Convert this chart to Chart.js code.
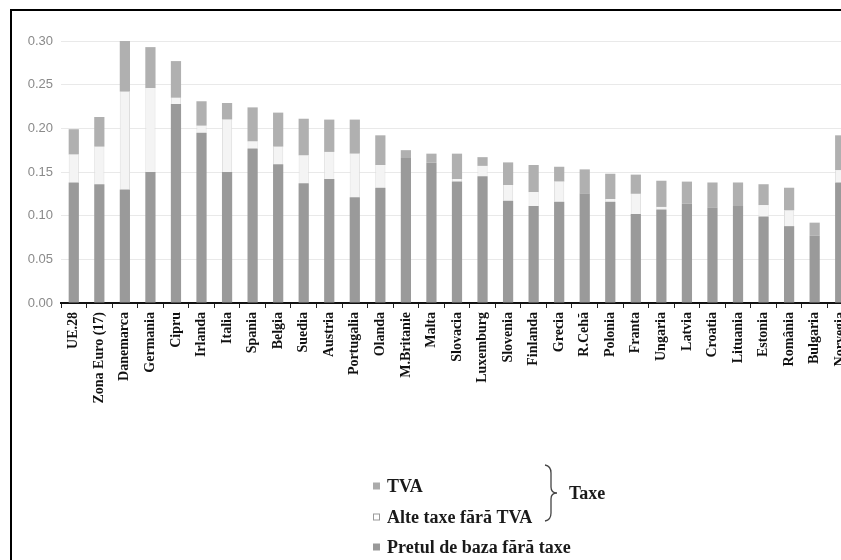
<!DOCTYPE html>
<html>
<head>
<meta charset="utf-8">
<script src="https://cdn.jsdelivr.net/npm/chart.js@4/dist/chart.umd.min.js"></script>
<style>
  html, body { margin: 0; padding: 0; background: #fff; overflow: hidden; }
  #wrap { position: relative; width: 841px; height: 560px; overflow: hidden; }
  canvas { display: block; }
</style>
</head>
<body>
<div id="wrap"><canvas id="c" width="861" height="560"></canvas></div>
<script>
// Countries / groupings, in plotted order
const categories = [
  "UE.28", "Zona Euro (17)", "Danemarca", "Germania", "Cipru", "Irlanda", "Italia",
  "Spania", "Belgia", "Suedia", "Austria", "Portugalia", "Olanda", "M.Britanie",
  "Malta", "Slovacia", "Luxemburg", "Slovenia", "Finlanda", "Grecia", "R.Cehă",
  "Polonia", "Franta", "Ungaria", "Latvia", "Croatia", "Lituania", "Estonia",
  "România", "Bulgaria", "Norvegia"
];

// Base price without taxes
const pretBaza = [
  0.138, 0.136, 0.130, 0.150, 0.228, 0.195, 0.150, 0.177, 0.159, 0.137, 0.142,
  0.121, 0.132, 0.166, 0.161, 0.139, 0.145, 0.117, 0.111, 0.116, 0.125,
  0.116, 0.102, 0.107, 0.114, 0.109, 0.112, 0.099, 0.088, 0.077, 0.138
];

// Other taxes, excluding VAT
const alteTaxe = [
  0.032, 0.043, 0.112, 0.096, 0.007, 0.008, 0.060, 0.008, 0.020, 0.032, 0.031,
  0.050, 0.026, 0.000, 0.000, 0.003, 0.012, 0.018, 0.016, 0.023, 0.000,
  0.003, 0.023, 0.003, 0.000, 0.000, 0.000, 0.013, 0.018, 0.000, 0.014
];

// VAT
const tva = [
  0.029, 0.034, 0.058, 0.047, 0.042, 0.028, 0.019, 0.039, 0.039, 0.042, 0.037,
  0.039, 0.034, 0.009, 0.010, 0.029, 0.010, 0.026, 0.031, 0.017, 0.028,
  0.029, 0.022, 0.030, 0.025, 0.029, 0.026, 0.024, 0.026, 0.015, 0.040
];

const yTicks = [0, 0.05, 0.10, 0.15, 0.20, 0.25, 0.30];

const legendItems = [
  { text: "TVA", fill: "#ababab", stroke: null },
  { text: "Alte taxe fără TVA", fill: "#ffffff", stroke: "#9a9a9a" },
  { text: "Pretul de baza fără taxe", fill: "#999999", stroke: null }
];
const braceLabel = "Taxe";

const SERIF = "'Liberation Serif', 'Times New Roman', serif";

// Frame, legend and the brace grouping the two tax series
const decorations = {
  id: "decorations",
  afterDraw(chart) {
    const ctx = chart.ctx;
    ctx.save();
    // frame (left and top edges)
    ctx.fillStyle = "#000";
    ctx.fillRect(10, 9, 2, 560);
    ctx.fillRect(10, 9, 831, 2);

    // legend
    const ys = [486, 517, 547];
    ctx.font = "bold 18px " + SERIF;
    ctx.textBaseline = "middle";
    ctx.textAlign = "left";
    legendItems.forEach((it, i) => {
      const y = ys[i];
      ctx.fillStyle = it.fill;
      ctx.fillRect(373, y - 3.5, 7, 7);
      if (it.stroke) {
        ctx.strokeStyle = it.stroke;
        ctx.lineWidth = 1;
        ctx.strokeRect(373.5, y - 3, 6, 6);
      }
      ctx.fillStyle = "#1a1a1a";
      ctx.fillText(it.text, 387, y + 1);
    });

    // brace
    ctx.strokeStyle = "#444";
    ctx.lineWidth = 1.3;
    ctx.beginPath();
    ctx.moveTo(545, 465);
    ctx.quadraticCurveTo(551, 466, 551, 473);
    ctx.lineTo(551, 487);
    ctx.quadraticCurveTo(551, 493, 557, 493);
    ctx.quadraticCurveTo(551, 493, 551, 499);
    ctx.lineTo(551, 513);
    ctx.quadraticCurveTo(551, 520, 545, 521);
    ctx.stroke();

    ctx.fillStyle = "#1a1a1a";
    ctx.fillText(braceLabel, 569, 494);
    ctx.restore();
  }
};

new Chart(document.getElementById("c"), {
  type: "bar",
  data: {
    labels: categories,
    datasets: [
      { label: legendItems[2].text, data: pretBaza, backgroundColor: "#9a9a9a",
        borderWidth: 0, barPercentage: 0.4, categoryPercentage: 1 },
      { label: legendItems[1].text, data: alteTaxe, backgroundColor: "#f4f4f4",
        borderColor: "#dedede", borderWidth: { left: 1, right: 1 },
        barPercentage: 0.4, categoryPercentage: 1 },
      { label: legendItems[0].text, data: tva, backgroundColor: "#b0b0b0",
        borderWidth: 0, barPercentage: 0.4, categoryPercentage: 1 }
    ]
  },
  options: {
    responsive: false,
    animation: false,
    layout: { padding: { top: 41, right: 0, left: 0, bottom: 0 } },
    plugins: { legend: { display: false }, tooltip: { enabled: false } },
    scales: {
      x: {
        stacked: true,
        offset: true,
        grid: {
          display: true,
          offset: true,
          drawOnChartArea: false,
          drawTicks: true,
          tickLength: 5,
          color: "#222",
          lineWidth: 1
        },
        border: { display: true, color: "#111", width: 2 },
        ticks: {
          autoSkip: false,
          minRotation: 90,
          maxRotation: 90,
          padding: 4,
          color: "#111",
          font: { family: SERIF, size: 14, weight: "bold" }
        },
        afterFit(s) { s.height = 257; }
      },
      y: {
        stacked: true,
        min: 0,
        max: 0.30,
        afterBuildTicks(s) { s.ticks = yTicks.map(v => ({ value: v })); },
        grid: { color: "#e9e9e9", lineWidth: 1, drawTicks: false },
        border: { display: false },
        ticks: {
          padding: 8,
          color: "#8a8a8a",
          font: { family: "'Liberation Sans', Arial, sans-serif", size: 13 },
          callback: v => Number(v).toFixed(2)
        },
        afterFit(s) { s.width = 61; }
      }
    }
  },
  plugins: [decorations]
});
</script>
</body>
</html>
